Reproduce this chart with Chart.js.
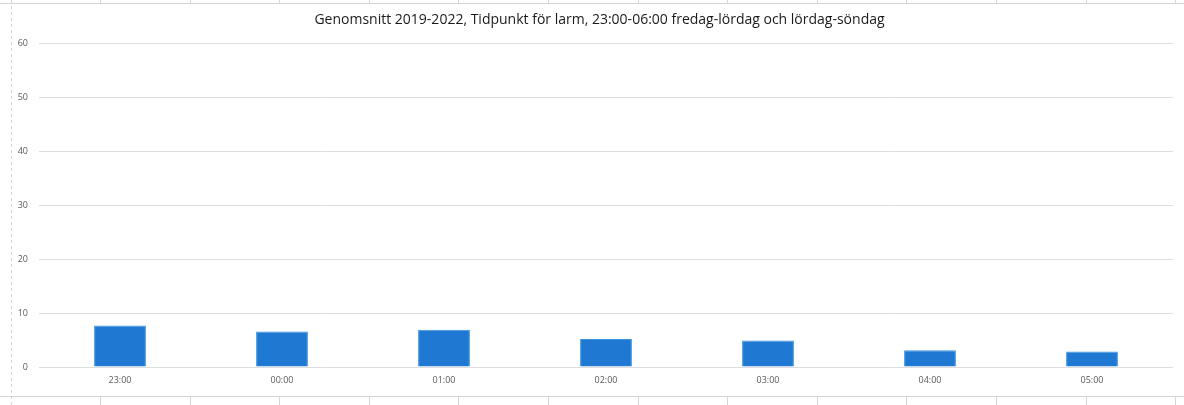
<!DOCTYPE html>
<html lang="sv">
<head>
<meta charset="utf-8">
<title>Tidpunkt för larm</title>
<script src="https://cdn.jsdelivr.net/npm/chart.js@4.4.1/dist/chart.umd.min.js"></script>
<style>
  html, body { margin: 0; padding: 0; background: #fff; }
  #wrap { width: 1184px; height: 405px; position: relative; }
</style>
</head>
<body>
<div id="wrap"><canvas id="larmChart"></canvas></div>
<script>
// Genomsnitt per timme, natten mellan fredag-lördag och lördag-söndag
const timmar = ['23:00', '00:00', '01:00', '02:00', '03:00', '04:00', '05:00'];
const larm = [7.7, 6.6, 6.9, 5.2, 4.9, 3.1, 2.9];
const yTicks = [0, 10, 20, 30, 40, 50, 60];

// kalkylbladets rutnät runt diagrammet
const arkRutnat = {
    id: 'arkRutnat',
    beforeDraw(chart) {
        const c = chart.ctx;
        const w = chart.width, h = chart.height;
        c.save();
        c.strokeStyle = '#d4d4d4';
        c.lineWidth = 1;
        c.beginPath();
        c.moveTo(0, 3.5); c.lineTo(w, 3.5);
        c.moveTo(0, 396.5); c.lineTo(w, 396.5);
        for (let x = 100; x < w; x += 89.6) {
            const px = Math.round(x) + 0.5;
            c.moveTo(px, 0); c.lineTo(px, 3.5);
            c.moveTo(px, 396.5); c.lineTo(px, h);
        }
        c.stroke();
        c.setLineDash([3, 3]);
        c.beginPath();
        c.moveTo(11.5, 0); c.lineTo(11.5, h);
        c.stroke();
        c.restore();
    }
};

// rubriken centreras lite till höger om mitten
const rubrikForskjutning = {
    id: 'rubrikForskjutning',
    afterLayout(chart) {
        if (chart.titleBlock) chart.titleBlock.left = 26;
    }
};

const ctx = document.getElementById('larmChart').getContext('2d');

new Chart(ctx, {
    type: 'bar',
    data: {
        labels: timmar,
        datasets: [{
            label: 'Larm',
            data: larm,
            backgroundColor: '#1f78d1',
            borderColor: '#3f97e2',
            borderWidth: 1,
            categoryPercentage: 1.0,
            barPercentage: 0.32
        }]
    },
    options: {
        responsive: true,
        maintainAspectRatio: false,
        animation: false,
        layout: { padding: { left: 0, right: 11, top: 0, bottom: 0 } },
        plugins: {
            legend: { display: false },
            tooltip: { enabled: false },
            title: {
                display: true,
                text: 'Genomsnitt 2019-2022, Tidpunkt för larm, 23:00-06:00 fredag-lördag och lördag-söndag',
                color: '#1a1a1a',
                font: { family: 'Open Sans', size: 14, weight: 'normal' },
                padding: { top: 12, bottom: 15 }
            }
        },
        scales: {
            x: {
                grid: { display: false },
                border: { display: false },
                ticks: {
                    color: '#595959',
                    font: { family: 'Open Sans', size: 9 },
                    padding: 0,
                    maxRotation: 0
                },
                afterFit(scale) { scale.height = 38; }
            },
            y: {
                min: 0,
                max: 60,
                afterBuildTicks(scale) {
                    scale.ticks = yTicks.map(v => ({ value: v }));
                },
                grid: { color: '#dedede', drawTicks: false },
                border: { display: false },
                ticks: {
                    color: '#595959',
                    font: { family: 'Open Sans', size: 9 },
                    padding: 11
                },
                afterFit(scale) { scale.width = 39; }
            }
        }
    },
    plugins: [arkRutnat, rubrikForskjutning]
});
</script>
</body>
</html>
